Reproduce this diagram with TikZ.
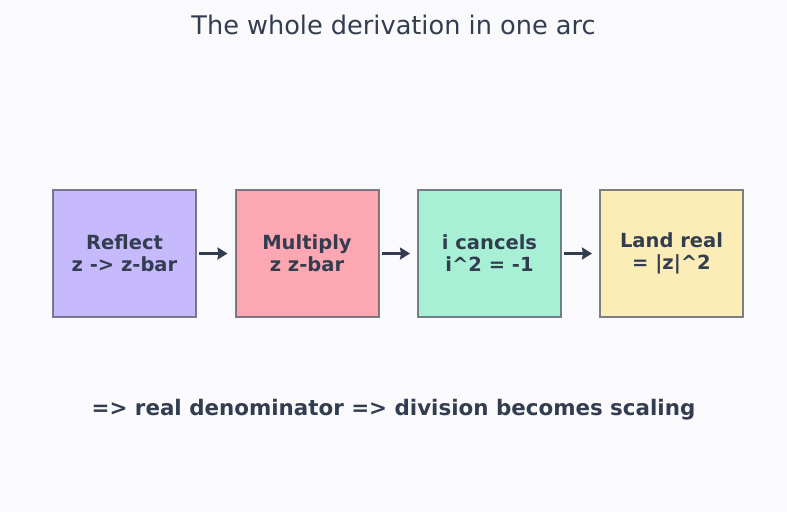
\documentclass[tikz,border=0pt]{standalone}
\usepackage{fontspec}
\setmainfont{DejaVu Sans}
\usetikzlibrary{positioning,arrows.meta}
\definecolor{paper}{HTML}{FAFAFD}
\definecolor{ink}{HTML}{333D50}
\definecolor{edge}{HTML}{5E6070}
\definecolor{lilac}{HTML}{C6B9FC}
\definecolor{rose}{HTML}{FDA7B3}
\definecolor{mint}{HTML}{A7F0D5}
\definecolor{butter}{HTML}{FCEDB7}
\tikzset{
  stage/.style ={draw=edge, draw opacity=.8, line width=2pt, minimum width=143pt, minimum height=127pt,
                 align=center, text=ink, font=\fontsize{19.5}{22}\selectfont\bfseries},
  flow/.style  ={draw=ink, line width=3.2pt, -{Stealth[length=10pt,width=12pt,inset=1pt]}, shorten <=2pt, shorten >=7pt},
  ttl/.style   ={text=ink, font=\fontsize{25.6}{30}\selectfont},
  note/.style  ={text=ink, font=\fontsize{21.4}{25}\selectfont\bfseries},
}
\begin{document}
\begin{tikzpicture}[x=1pt,y=-1pt]
    \fill[paper] (0,0) rectangle (787,512);
    \useasboundingbox (0,0) rectangle (787,512);
    \node[ttl] (title) at (393.5,25) {The whole derivation in one arc};

    \node[stage,fill=lilac]  (s1) at (124.5,253.5) {Reflect\\z -> z-bar};
    \node[stage,fill=rose]   (s2) at (307,253.5)   {Multiply\\z z-bar};
    \node[stage,fill=mint]   (s3) at (489.5,253.5) {i cancels\\i\^{}2 = -1};
    \node[stage,fill=butter] (s4) at (671.5,253.5) {Land real\\= |z|\^{}2};

    \foreach \a/\b in {s1/s2,s2/s3,s3/s4} \draw[flow] (\a.east) -- (\b.west);

    \node[note] (sum) at (393.5,410) {=> real denominator => division becomes scaling};
  \end{tikzpicture}
\end{document}
